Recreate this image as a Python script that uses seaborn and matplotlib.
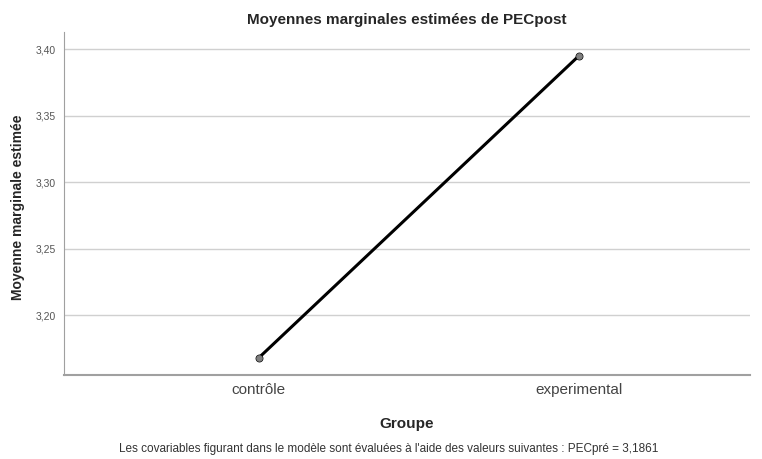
import pandas as pd
import matplotlib.pyplot as plt
import matplotlib.ticker as mticker
import seaborn as sns

# Data
groupes = ["contrôle", "experimental"]
moyennes = [3.168, 3.395]
y_ticks = [3.20, 3.25, 3.30, 3.35, 3.40]

df = pd.DataFrame({"Groupe": groupes, "PECpost": moyennes})

sns.set_style("white")
plt.rcParams["font.family"] = ["Liberation Sans", "DejaVu Sans"]

fig = plt.figure(figsize=(7.62, 4.59), dpi=100)
ax = fig.add_axes([0.084, 0.183, 0.9, 0.747])

sns.pointplot(data=df, x="Groupe", y="PECpost", color="black",
              linewidth=2.2, markers="o", markersize=4, ax=ax, zorder=3)
# gray markers on top of the line
ax.scatter(range(len(groupes)), moyennes, s=14, color="#808080", zorder=4)

ax.set_xlim(-0.609, 1.534)
ax.set_ylim(3.155, 3.4128)
ax.set_yticks(y_ticks)
ax.yaxis.set_major_formatter(mticker.FuncFormatter(lambda v, p: f"{v:.2f}".replace(".", ",")))
ax.grid(axis="y", color="#d0d0d0", linewidth=1)
ax.set_axisbelow(True)

for s in ["top", "right"]:
    ax.spines[s].set_visible(False)
ax.spines["left"].set_color("#a0a0a0")
ax.spines["bottom"].set_color("#a0a0a0")
ax.spines["bottom"].set_linewidth(1.5)

ax.tick_params(axis="y", length=0, labelsize=7.5, labelcolor="#555555", pad=6)
ax.tick_params(axis="x", length=0, labelsize=11, labelcolor="#444444", pad=6)

ax.set_title("Moyennes marginales estimées de PECpost", fontsize=11, fontweight="bold", pad=6)
ax.set_xlabel("Groupe", fontsize=11, fontweight="bold", labelpad=14)
ax.set_ylabel("Moyenne marginale estimée", fontsize=10, fontweight="bold")
ax.yaxis.set_label_coords(-0.057, 0.49)

fig.text(0.51, 0.015, "Les covariables figurant dans le modèle sont évaluées à l'aide des valeurs suivantes : PECpré = 3,1861",
         ha="center", fontsize=8.5, color="#333333")

plt.savefig("out.png", dpi=100)
plt.close()
